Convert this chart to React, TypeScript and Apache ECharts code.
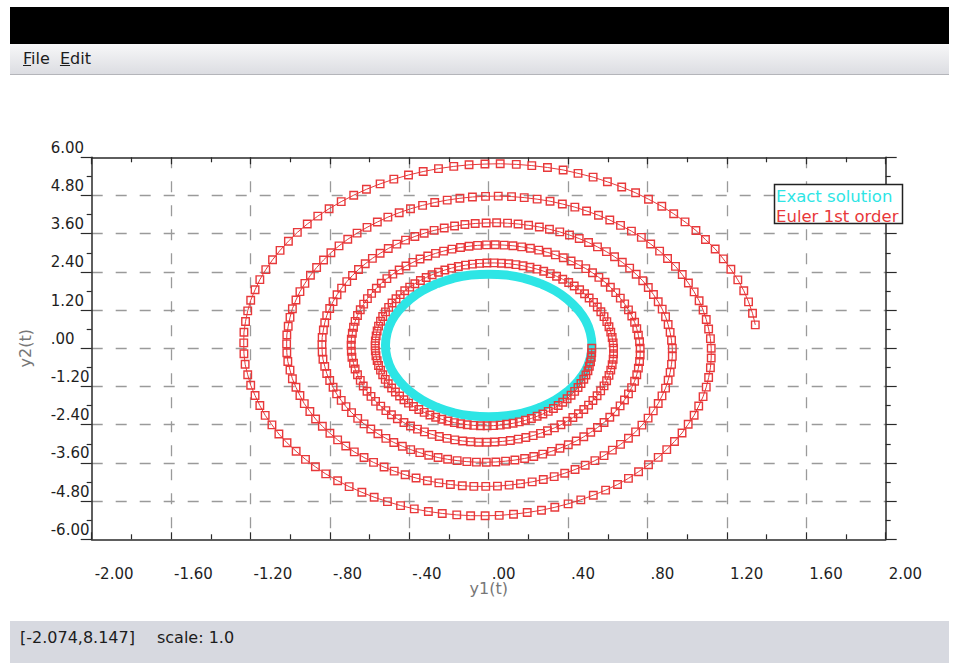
import React, { useEffect, useRef } from "react";
import * as echarts from "echarts";

const xTickLabels = ["-2.00", "-1.60", "-1.20", "-.80", "-.40", ".00", ".40", ".80", "1.20", "1.60", "2.00"];
const yTickLabels = ["-6.00", "-4.80", "-3.60", "-2.40", "-1.20", ".00", "1.20", "2.40", "3.60", "4.80", "6.00"];

const legendNames = ["Exact solution", "Euler 1st order"];

const exactX = [0.52, 0.512, 0.489, 0.45, 0.398, 0.334, 0.26, 0.178, 0.09, 0, -0.09, -0.178, -0.26, -0.334, -0.398, -0.45, -0.489, -0.512, -0.52, -0.512, -0.489, -0.45, -0.398, -0.334, -0.26, -0.178, -0.09, 0, 0.09, 0.178, 0.26, 0.334, 0.398, 0.45, 0.489, 0.512, 0.52];
const exactY = [0.09, 0.48, 0.86, 1.21, 1.53, 1.81, 2.03, 2.2, 2.3, 2.33, 2.3, 2.2, 2.03, 1.81, 1.53, 1.21, 0.86, 0.48, 0.09, -0.3, -0.68, -1.03, -1.35, -1.63, -1.85, -2.02, -2.12, -2.15, -2.12, -2.02, -1.85, -1.63, -1.35, -1.03, -0.68, -0.3, 0.09];

const eulerLoop1 = [
  [0.519, 0], [0.519, -0.142], [0.517, -0.283], [0.513, -0.425], [0.507, -0.565], [0.5, -0.703], [0.49, -0.84], [0.479, -0.974], [0.465, -1.104], [0.45, -1.231],
  [0.433, -1.354], [0.415, -1.473], [0.395, -1.586], [0.373, -1.694], [0.35, -1.795], [0.326, -1.891], [0.3, -1.98], [0.273, -2.062], [0.244, -2.136], [0.215, -2.203],
  [0.185, -2.262], [0.154, -2.312], [0.123, -2.354], [0.09, -2.388], [0.058, -2.412], [0.025, -2.429], [-0.008, -2.435], [-0.042, -2.433], [-0.075, -2.422], [-0.108, -2.401],
  [-0.141, -2.372], [-0.173, -2.334], [-0.205, -2.286], [-0.236, -2.23], [-0.267, -2.165], [-0.296, -2.093], [-0.325, -2.012], [-0.352, -1.924], [-0.379, -1.827], [-0.404, -1.723],
  [-0.427, -1.614], [-0.449, -1.497], [-0.47, -1.374], [-0.489, -1.246], [-0.506, -1.113], [-0.521, -0.975], [-0.534, -0.832], [-0.545, -0.687], [-0.555, -0.538], [-0.562, -0.386],
  [-0.568, -0.233], [-0.571, -0.078], [-0.572, 0.078], [-0.571, 0.234], [-0.567, 0.39], [-0.562, 0.545], [-0.555, 0.698], [-0.545, 0.85], [-0.534, 0.998], [-0.52, 1.144],
  [-0.504, 1.287], [-0.487, 1.424], [-0.467, 1.557], [-0.446, 1.685], [-0.423, 1.806], [-0.398, 1.922], [-0.372, 2.03], [-0.344, 2.132], [-0.315, 2.226], [-0.285, 2.312],
  [-0.253, 2.39], [-0.221, 2.459], [-0.187, 2.519], [-0.153, 2.57], [-0.117, 2.612], [-0.082, 2.644], [-0.046, 2.667], [-0.009, 2.679], [0.027, 2.682], [0.064, 2.674],
  [0.101, 2.657], [0.137, 2.629], [0.173, 2.592], [0.208, 2.544], [0.243, 2.488], [0.277, 2.421], [0.31, 2.345], [0.342, 2.261], [0.373, 2.168], [0.403, 2.065],
  [0.431, 1.956], [0.458, 1.838], [0.483, 1.713], [0.506, 1.582], [0.528, 1.443], [0.547, 1.299], [0.565, 1.15], [0.581, 0.995], [0.595, 0.837], [0.606, 0.675],
  [0.615, 0.509], [0.622, 0.341], [0.627, 0.171]
];

const eulerLoop2 = [
  [0.629, 0], [0.629, -0.172], [0.627, -0.343], [0.622, -0.515], [0.615, -0.685], [0.606, -0.852], [0.594, -1.018], [0.581, -1.181], [0.564, -1.338], [0.546, -1.492],
  [0.525, -1.642], [0.503, -1.786], [0.479, -1.923], [0.452, -2.054], [0.424, -2.176], [0.395, -2.293], [0.364, -2.401], [0.331, -2.5], [0.296, -2.59], [0.261, -2.671],
  [0.224, -2.742], [0.187, -2.803], [0.149, -2.854], [0.109, -2.895], [0.07, -2.924], [0.03, -2.945], [-0.01, -2.952], [-0.051, -2.95], [-0.091, -2.936], [-0.131, -2.911],
  [-0.171, -2.876], [-0.21, -2.83], [-0.249, -2.772], [-0.286, -2.704], [-0.324, -2.625], [-0.359, -2.538], [-0.394, -2.439], [-0.427, -2.333], [-0.46, -2.215], [-0.49, -2.089],
  [-0.518, -1.957], [-0.544, -1.815], [-0.57, -1.666], [-0.593, -1.511], [-0.613, -1.349], [-0.632, -1.182], [-0.647, -1.009], [-0.661, -0.833], [-0.673, -0.652], [-0.681, -0.468],
  [-0.689, -0.282], [-0.692, -0.095], [-0.693, 0.095], [-0.692, 0.284], [-0.687, 0.473], [-0.681, 0.661], [-0.673, 0.846], [-0.661, 1.031], [-0.647, 1.21], [-0.63, 1.387],
  [-0.611, 1.56], [-0.59, 1.726], [-0.566, 1.888], [-0.541, 2.043], [-0.513, 2.19], [-0.483, 2.33], [-0.451, 2.461], [-0.417, 2.585], [-0.382, 2.699], [-0.346, 2.803],
  [-0.307, 2.898], [-0.268, 2.981], [-0.227, 3.054], [-0.185, 3.116], [-0.142, 3.167], [-0.099, 3.206], [-0.056, 3.234], [-0.011, 3.248], [0.033, 3.252], [0.078, 3.242],
  [0.122, 3.221], [0.166, 3.187], [0.21, 3.143], [0.252, 3.084], [0.295, 3.016], [0.336, 2.935], [0.376, 2.843], [0.415, 2.741], [0.452, 2.628], [0.489, 2.504],
  [0.523, 2.371], [0.555, 2.228], [0.586, 2.077], [0.613, 1.918], [0.64, 1.75], [0.663, 1.575], [0.685, 1.394], [0.704, 1.206], [0.721, 1.015], [0.735, 0.818],
  [0.746, 0.617], [0.754, 0.413], [0.76, 0.207]
];

const eulerLoop3 = [
  [0.763, 0], [0.763, -0.209], [0.76, -0.416], [0.754, -0.624], [0.746, -0.83], [0.735, -1.033], [0.72, -1.234], [0.704, -1.432], [0.684, -1.622], [0.662, -1.809],
  [0.637, -1.991], [0.61, -2.165], [0.581, -2.331], [0.548, -2.49], [0.514, -2.638], [0.479, -2.78], [0.441, -2.911], [0.401, -3.031], [0.359, -3.14], [0.316, -3.238],
  [0.272, -3.324], [0.227, -3.398], [0.181, -3.46], [0.132, -3.51], [0.085, -3.545], [0.036, -3.571], [-0.012, -3.579], [-0.062, -3.577], [-0.11, -3.56], [-0.159, -3.529],
  [-0.207, -3.487], [-0.255, -3.431], [-0.302, -3.361], [-0.347, -3.278], [-0.393, -3.183], [-0.435, -3.077], [-0.478, -2.957], [-0.518, -2.829], [-0.558, -2.685], [-0.594, -2.533],
  [-0.628, -2.373], [-0.66, -2.201], [-0.691, -2.02], [-0.719, -1.832], [-0.743, -1.636], [-0.766, -1.433], [-0.784, -1.223], [-0.801, -1.01], [-0.816, -0.79], [-0.826, -0.567],
  [-0.835, -0.342], [-0.839, -0.115], [-0.84, 0.115], [-0.839, 0.344], [-0.833, 0.573], [-0.826, 0.801], [-0.816, 1.026], [-0.801, 1.25], [-0.784, 1.467], [-0.764, 1.682],
  [-0.741, 1.891], [-0.715, 2.093], [-0.686, 2.289], [-0.656, 2.477], [-0.622, 2.655], [-0.586, 2.825], [-0.547, 2.984], [-0.506, 3.134], [-0.463, 3.272], [-0.419, 3.398],
  [-0.372, 3.514], [-0.325, 3.614], [-0.275, 3.703], [-0.224, 3.778], [-0.172, 3.84], [-0.12, 3.887], [-0.068, 3.921], [-0.013, 3.938], [0.04, 3.943], [0.095, 3.931],
  [0.148, 3.905], [0.201, 3.864], [0.255, 3.811], [0.306, 3.739], [0.358, 3.657], [0.407, 3.558], [0.456, 3.447], [0.503, 3.323], [0.548, 3.186], [0.593, 3.036],
  [0.634, 2.875], [0.673, 2.701], [0.71, 2.518], [0.743, 2.325], [0.776, 2.122], [0.804, 1.91], [0.83, 1.69], [0.854, 1.462], [0.874, 1.231], [0.891, 0.992],
  [0.904, 0.748], [0.914, 0.501], [0.921, 0.251]
];

const eulerLoop4 = [
  [0.925, 0], [0.925, -0.253], [0.921, -0.504], [0.914, -0.757], [0.904, -1.006], [0.891, -1.252], [0.873, -1.496], [0.854, -1.736], [0.829, -1.967], [0.803, -2.193],
  [0.772, -2.414], [0.74, -2.625], [0.704, -2.826], [0.664, -3.019], [0.623, -3.198], [0.581, -3.37], [0.535, -3.529], [0.486, -3.675], [0.435, -3.807], [0.383, -3.926],
  [0.33, -4.03], [0.275, -4.12], [0.219, -4.195], [0.16, -4.256], [0.103, -4.298], [0.044, -4.33], [-0.015, -4.339], [-0.075, -4.337], [-0.133, -4.316], [-0.193, -4.279],
  [-0.251, -4.228], [-0.309, -4.16], [-0.366, -4.075], [-0.421, -3.974], [-0.476, -3.859], [-0.527, -3.731], [-0.58, -3.585], [-0.628, -3.43], [-0.677, -3.255], [-0.72, -3.071],
  [-0.761, -2.877], [-0.8, -2.669], [-0.838, -2.449], [-0.872, -2.221], [-0.901, -1.983], [-0.929, -1.737], [-0.951, -1.483], [-0.971, -1.225], [-0.989, -0.958], [-1.001, -0.687],
  [-1.012, -0.415], [-1.017, -0.139], [-1.018, 0.139], [-1.017, 0.417], [-1.01, 0.695], [-1.001, 0.971], [-0.989, 1.244], [-0.971, 1.516], [-0.951, 1.779], [-0.926, 2.039],
  [-0.898, 2.293], [-0.867, 2.538], [-0.832, 2.775], [-0.795, 3.003], [-0.754, 3.219], [-0.71, 3.425], [-0.663, 3.618], [-0.613, 3.8], [-0.561, 3.967], [-0.508, 4.12],
  [-0.451, 4.26], [-0.394, 4.382], [-0.333, 4.49], [-0.272, 4.58], [-0.209, 4.656], [-0.145, 4.713], [-0.082, 4.754], [-0.016, 4.774], [0.048, 4.781], [0.115, 4.766],
  [0.179, 4.734], [0.244, 4.685], [0.309, 4.621], [0.371, 4.533], [0.434, 4.434], [0.493, 4.314], [0.553, 4.179], [0.61, 4.029], [0.664, 3.863], [0.719, 3.681],
  [0.769, 3.486], [0.816, 3.275], [0.861, 3.053], [0.901, 2.819], [0.941, 2.573], [0.975, 2.316], [1.006, 2.049], [1.035, 1.773], [1.06, 1.492], [1.08, 1.203],
  [1.096, 0.907], [1.108, 0.607], [1.117, 0.304]
];

const eulerLoop5 = [
  [1.121, 0], [1.121, -0.307], [1.117, -0.611], [1.108, -0.918], [1.096, -1.22], [1.08, -1.518], [1.058, -1.814], [1.035, -2.105], [1.005, -2.385], [0.974, -2.659],
  [0.936, -2.927], [0.897, -3.183], [0.854, -3.426], [0.805, -3.66], [0.755, -3.877], [0.704, -4.086], [0.649, -4.279], [0.589, -4.456], [0.527, -4.616], [0.464, -4.76],
  [0.4, -4.886], [0.333, -4.995], [0.266, -5.086], [0.194, -5.16], [0.125, -5.211], [0.053, -5.25], [-0.018, -5.261], [-0.091, -5.258], [-0.161, -5.233], [-0.234, -5.188],
  [-0.304, -5.126], [-0.375, -5.044], [-0.444, -4.941], [-0.51, -4.818], [-0.577, -4.679], [-0.639, -4.523], [-0.703, -4.346], [-0.761, -4.159], [-0.821, -3.946], [-0.873, -3.723],
  [-0.923, -3.488], [-0.97, -3.236], [-1.016, -2.969], [-1.057, -2.693], [-1.092, -2.404], [-1.126, -2.106], [-1.153, -1.798], [-1.177, -1.485], [-1.199, -1.161], [-1.214, -0.833],
  [-1.227, -0.503], [-1.233, -0.169], [-1.234, 0.169], [-1.233, 0.506], [-1.225, 0.843], [-1.214, 1.177], [-1.199, 1.508], [-1.177, 1.838], [-1.153, 2.157], [-1.123, 2.472],
  [-1.089, 2.78], [-1.051, 3.077], [-1.009, 3.364], [-0.964, 3.641], [-0.914, 3.903], [-0.861, 4.152], [-0.804, 4.386], [-0.743, 4.607], [-0.68, 4.81], [-0.616, 4.995],
  [-0.547, 5.165], [-0.478, 5.313], [-0.404, 5.444], [-0.33, 5.553], [-0.253, 5.645], [-0.176, 5.714], [-0.099, 5.764], [-0.019, 5.788], [0.058, 5.797], [0.139, 5.778],
  [0.217, 5.74], [0.296, 5.68], [0.375, 5.603], [0.45, 5.496], [0.526, 5.376], [0.598, 5.23], [0.67, 5.067], [0.74, 4.885], [0.805, 4.684], [0.872, 4.463],
  [0.932, 4.226], [0.989, 3.971], [1.044, 3.701], [1.092, 3.418], [1.141, 3.12], [1.182, 2.808], [1.22, 2.484], [1.255, 2.15], [1.285, 1.809], [1.309, 1.459],
  [1.329, 1.1], [1.343, 0.736]
];

const CYAN = "#2de5e5";
const RED = "#e8383a";
const FONT = "DejaVu Sans";

const xLabel = (v: number) => xTickLabels[Math.round((v + 2) / 0.4)] ?? "";
const yLabel = (v: number) => yTickLabels[Math.round((v + 6) / 1.2)] ?? "";

function Chart() {
  const ref = useRef<HTMLDivElement>(null);
  useEffect(() => {
    if (!ref.current) return;
    const chart = echarts.init(ref.current, undefined, { renderer: "svg" });
    const exactData = exactX.map((x, i) => [x, exactY[i]]);
    const eulerData = [...eulerLoop1, ...eulerLoop2, ...eulerLoop3, ...eulerLoop4, ...eulerLoop5];
    const axisColor = "#2a2a2a";
    const gridLine = { show: true, showMinLine: false, showMaxLine: false, lineStyle: { color: "#9a9a9a", width: 1.3, type: [11, 13] as any } };
    chart.setOption({
      animation: false,
      grid: { left: 91.7, top: 157.3, width: 794, height: 382 },
      xAxis: [
        {
          type: "value", position: "bottom", min: -2, max: 2, interval: 0.4,
          axisLine: { show: true, onZero: false, lineStyle: { color: axisColor, width: 1.5 } },
          axisTick: { show: true, inside: true, length: 7, lineStyle: { color: axisColor, width: 1.2 } },
          minorTick: { show: true, splitNumber: 2, length: 5, lineStyle: { color: axisColor, width: 1.2 } },
          axisLabel: {
            formatter: xLabel, align: "left", verticalAlign: "middle", margin: 35, padding: [0, 0, 0, 3],
            color: "#1e1e1e", fontSize: 15, fontFamily: FONT, hideOverlap: false, showMinLabel: true, showMaxLabel: true,
          },
          splitLine: gridLine,
          name: "y1(t)", nameLocation: "middle", nameGap: 41, nameMoveOverlap: false,
          nameTextStyle: { color: "#777", fontSize: 16, fontFamily: FONT },
        },
        {
          type: "value", position: "top", min: -2, max: 2, interval: 0.4,
          axisLine: { show: true, onZero: false, lineStyle: { color: axisColor, width: 1.5 } },
          axisTick: { show: true, inside: true, length: 7, lineStyle: { color: axisColor, width: 1.2 } },
          minorTick: { show: true, splitNumber: 2, length: 5, lineStyle: { color: axisColor, width: 1.2 } },
          axisLabel: { show: false }, splitLine: { show: false },
        },
      ],
      yAxis: [
        {
          type: "value", position: "left", min: -6, max: 6, interval: 1.2,
          axisLine: { show: true, onZero: false, lineStyle: { color: axisColor, width: 1.5 } },
          axisTick: { show: true, inside: false, length: 11, lineStyle: { color: axisColor, width: 1.2 } },
          minorTick: { show: true, splitNumber: 2, length: 5, lineStyle: { color: axisColor, width: 1.2 } },
          axisLabel: {
            formatter: yLabel, align: "left", verticalAlign: "bottom", margin: 41, padding: [0, 0, 2, 0],
            color: "#1e1e1e", fontSize: 15, fontFamily: FONT, hideOverlap: false, showMinLabel: true, showMaxLabel: true,
          },
          splitLine: gridLine,
          name: "y2(t)", nameLocation: "middle", nameGap: 58,
          nameTextStyle: { color: "#777", fontSize: 16, fontFamily: FONT },
        },
        {
          type: "value", position: "right", min: -6, max: 6, interval: 1.2,
          axisLine: { show: true, onZero: false, lineStyle: { color: axisColor, width: 1.5 } },
          axisTick: { show: true, inside: false, length: 11, lineStyle: { color: axisColor, width: 1.2 } },
          minorTick: { show: true, splitNumber: 2, length: 5, lineStyle: { color: axisColor, width: 1.2 } },
          axisLabel: { show: false }, splitLine: { show: false },
        },
      ],
      series: [
        {
          name: legendNames[0], type: "line", xAxisIndex: 0, yAxisIndex: 0,
          data: exactData, smooth: 0.5, symbol: "none",
          lineStyle: { color: CYAN, width: 9 }, itemStyle: { color: CYAN }, z: 2,
        },
        {
          name: legendNames[1], type: "line", xAxisIndex: 0, yAxisIndex: 0,
          data: eulerData, symbol: "rect", symbolSize: 7.5, showSymbol: true, showAllSymbol: true,
          lineStyle: { color: RED, width: 1 },
          itemStyle: { color: "rgba(0,0,0,0)", borderColor: RED, borderWidth: 1.4 }, z: 3,
        },
      ],
      graphic: {
        elements: [
          { type: "rect", z: 100, zlevel: 0, shape: { x: 774.5, y: 184.5, width: 128, height: 39 }, style: { fill: "#fff", stroke: "#222", lineWidth: 1.5 } },
          { type: "text", z: 101, zlevel: 0, x: 776, y: 196, style: { text: legendNames[0], fill: CYAN, font: `16.5px "${FONT}"`, verticalAlign: "middle" } },
          { type: "text", z: 101, zlevel: 0, x: 776, y: 216, style: { text: legendNames[1], fill: RED, font: `16.5px "${FONT}"`, verticalAlign: "middle" } },
        ],
      },
    });
    return () => chart.dispose();
  }, []);
  return <div ref={ref} style={{ position: "absolute", left: 0, top: 0, width: 959, height: 663 }} />;
}

export default function App() {
  const font = `"DejaVu Sans", sans-serif`;
  return (
    <div style={{ position: "fixed", left: 0, top: 0, width: 959, height: 663, background: "#fff", overflow: "hidden", fontFamily: font }}>
      <div style={{ position: "absolute", left: 10, top: 7, width: 939, height: 37, background: "#000" }} />
      <div style={{ position: "absolute", left: 10, top: 44, width: 939, height: 30, background: "linear-gradient(#f7f7f8, #dcdde2)", borderBottom: "1px solid #b4b5ba" }} />
      <div style={{ position: "absolute", left: 23, top: 49, fontSize: 16, color: "#1c1c1c", whiteSpace: "pre", lineHeight: "20px" }}>
        <span><u>F</u>ile</span>{"  "}<span><u>E</u>dit</span>
      </div>
      <div style={{ position: "absolute", left: 10, top: 621, width: 939, height: 42, background: "#d7d9e0" }} />
      <div style={{ position: "absolute", left: 20, top: 628, fontSize: 16, color: "#1c1c1c", whiteSpace: "pre", lineHeight: "20px" }}>
        <span>[-2.074,8.147]</span><span style={{ marginLeft: 22 }}>scale: 1.0</span>
      </div>
      <Chart />
    </div>
  );
}
